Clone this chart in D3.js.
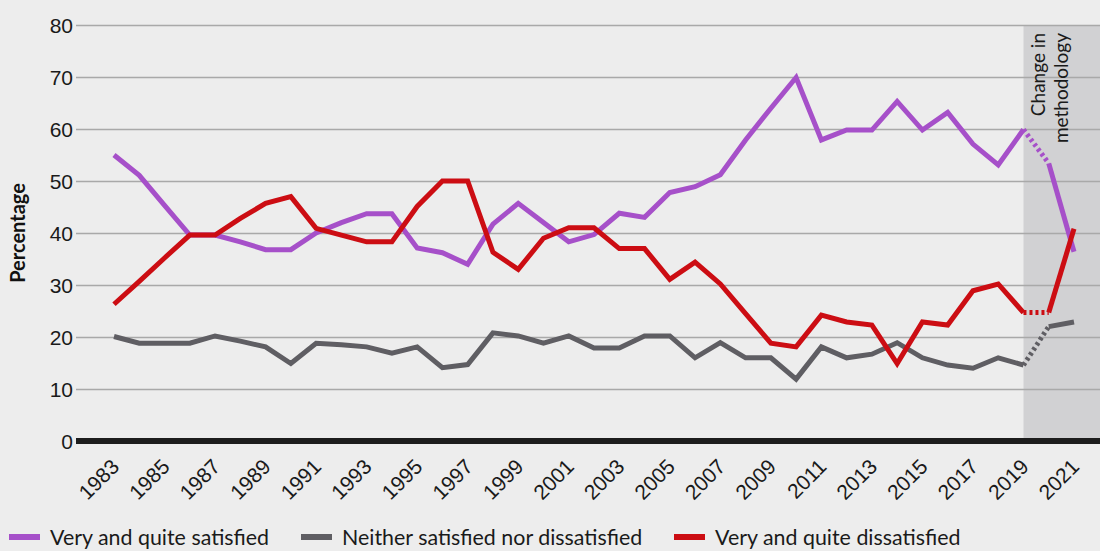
<!DOCTYPE html>
<html>
<head>
<meta charset="utf-8">
<script src="https://cdn.jsdelivr.net/npm/d3@7"></script>
<style>
  html, body { margin: 0; padding: 0; background: #ededed; }
  svg { display: block; font-family: Lato, 'Open Sans', sans-serif; }
</style>
</head>
<body>
<svg class="svg" width="1100" height="551"></svg>
<script>
// survey years and the three response series (percent)
const years = d3.range(1983, 2022);

const satisfied = [55, 51.1, 45.3, 39.6, 39.6, 38.3, 36.8, 36.8, 40, 42, 43.7, 43.7, 37.1, 36.2, 34,
  41.7, 45.7, 42, 38.3, 39.7, 43.8, 43, 47.8, 48.9, 51.2, 57.9, 64, 69.9, 57.9, 59.8, 59.8,
  65.3, 59.8, 63.2, 57.1, 53.1, 59.9, 53.4, 36.4];
const neither = [20.1, 18.8, 18.8, 18.8, 20.2, 19.2, 18.1, 14.9, 18.8, 18.5, 18.1, 16.9, 18.1, 14.1, 14.7,
  20.8, 20.2, 18.8, 20.2, 17.9, 17.9, 20.2, 20.2, 16, 18.9, 16, 16, 11.9, 18.1, 16, 16.7,
  18.9, 16, 14.6, 14, 16, 14.6, 22, 22.9];
const dissatisfied = [26.3, 30.7, 35.2, 39.6, 39.6, 42.8, 45.7, 47, 40.9, 39.6, 38.3, 38.3, 45.1, 50, 50,
  36.3, 33, 39, 41, 41, 37, 37, 31.1, 34.4, 30.2, 24.5, 18.8, 18.1, 24.2, 22.9, 22.3,
  14.9, 22.9, 22.3, 28.9, 30.2, 24.7, 24.7, 40.8];

const yTicks = [0, 10, 20, 30, 40, 50, 60, 70, 80];
const xTickYears = d3.range(1983, 2022, 2);
const methodChangeYear = 2019;

const seriesNames = ['Very and quite satisfied', 'Neither satisfied nor dissatisfied', 'Very and quite dissatisfied'];
const seriesColors = ['#a650c9', '#5f5e63', '#cc0d13'];

const plotLeft = 76;
const plotRight = 1100;

const svg = d3.select('.svg');

const x = d3.scaleLinear().domain([1983, 2021]).range([114, 1074]);
const y = d3.scaleLinear().domain([0, 80]).range([441, 25]);

// shaded "change in methodology" band
svg.append('rect')
  .attr('x', x(methodChangeYear))
  .attr('y', y(80))
  .attr('width', plotRight - x(methodChangeYear))
  .attr('height', y(0) - y(80))
  .attr('fill', '#d1d1d3');

// gridlines + y labels
const yAxis = d3.axisLeft(y)
  .tickValues(yTicks)
  .tickSize(-(plotRight - plotLeft))
  .tickPadding(4);

const yg = svg.append('g')
  .attr('transform', `translate(${plotLeft},0)`)
  .call(yAxis);
yg.select('.domain').remove();
yg.selectAll('.tick line')
  .attr('stroke', '#a9a9a9')
  .attr('stroke-width', 1.5);
yg.selectAll('.tick text')
  .attr('fill', '#1a1a1a')
  .style('font-size', '21px')
  .attr('x', -3)
  .attr('dy', '0.36em');

// y title
svg.append('text')
  .attr('transform', `translate(25,${y(40)}) rotate(-90)`)
  .attr('text-anchor', 'middle')
  .style('font-size', '20px')
  .style('font-weight', 'bold')
  .attr('fill', '#111')
  .text('Percentage');

// method change note
const noteX = x(methodChangeYear);
['Change in', 'methodology'].forEach((t, i) => {
  svg.append('text')
    .attr('transform', `translate(${noteX + 22 + i * 23},${y(80) + 8}) rotate(-90)`)
    .attr('text-anchor', 'end')
    .style('font-size', '19px')
    .attr('fill', '#1a1a1a')
    .text(t);
});

// lines: solid up to 2019, dotted 2019->2020, solid 2020->2021
const allSeries = [satisfied, neither, dissatisfied];
const line = d3.line()
  .x(d => x(d.year))
  .y(d => y(d.value));

const lineG = svg.append('g');

allSeries.forEach((vals, i) => {
  const pts = years.map((yr, j) => ({ year: yr, value: vals[j] }));
  const parts = [
    { data: pts.filter(d => d.year <= 2019), dash: null },
    { data: pts.filter(d => d.year >= 2019 && d.year <= 2020), dash: '3,3' },
    { data: pts.filter(d => d.year >= 2020), dash: null }
  ];
  parts.forEach(p => {
    lineG.append('path')
      .attr('d', line(p.data))
      .attr('fill', 'none')
      .attr('stroke', seriesColors[i])
      .attr('stroke-width', 5)
      .attr('stroke-linejoin', 'miter')
      .attr('stroke-dasharray', p.dash);
  });
});

// zero baseline
svg.append('line')
  .attr('x1', plotLeft)
  .attr('x2', plotRight)
  .attr('y1', y(0))
  .attr('y2', y(0))
  .attr('stroke', '#1d1d1d')
  .attr('stroke-width', 6);

// x labels
const xAxis = d3.axisBottom(x)
  .tickValues(xTickYears)
  .tickFormat(d3.format('d'))
  .tickSize(0);

const xg = svg.append('g')
  .attr('transform', `translate(0,${y(0)})`)
  .call(xAxis);
xg.select('.domain').remove();
xg.selectAll('.tick text')
  .attr('fill', '#1a1a1a')
  .style('font-size', '21px')
  .attr('text-anchor', 'end')
  .attr('x', 0)
  .attr('y', 0)
  .attr('dy', 0)
  .attr('transform', 'translate(6,27) rotate(-45)');

// legend (kept just inside the bottom edge)
const legendX = [9, 301, 674];
const legend = svg.append('g')
  .selectAll('g')
  .data(seriesNames)
  .join('g')
  .attr('transform', (d, i) => `translate(${legendX[i]},537)`);

legend.append('line')
  .attr('x1', 0)
  .attr('x2', 31)
  .attr('stroke', (d, i) => seriesColors[i])
  .attr('stroke-width', 6);

legend.append('text')
  .attr('x', 41)
  .attr('dy', '0.36em')
  .style('font-size', '21.4px')
  .attr('fill', '#1a1a1a')
  .text(d => d);
</script>
</body>
</html>
